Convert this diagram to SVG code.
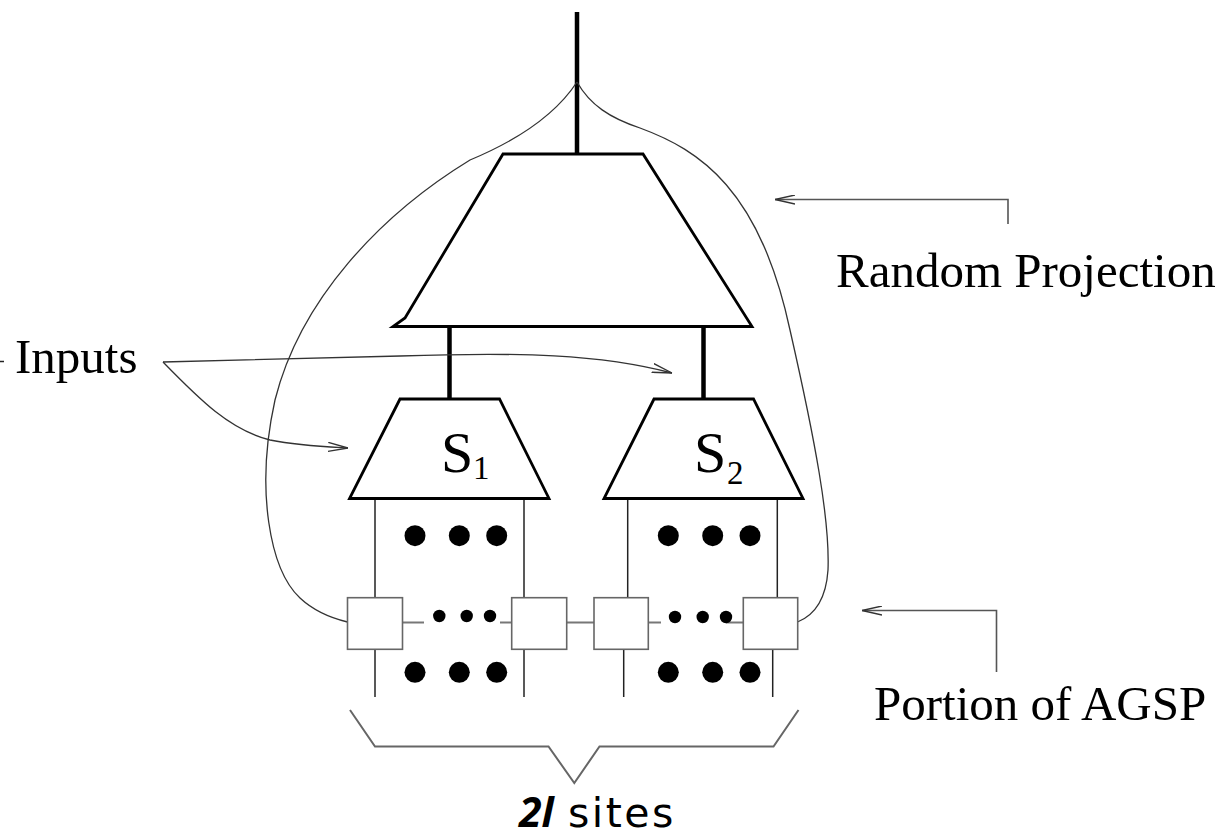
<svg xmlns="http://www.w3.org/2000/svg" width="1227" height="839" viewBox="0 0 1227 839">
  <style>
    .thick { stroke: #000; stroke-width: 4.5; fill: none; }
    .trap { stroke: #000; stroke-width: 2.8; fill: #fff; stroke-linejoin: miter; }
    .wire { stroke: #222; stroke-width: 1.5; fill: none; }
    .box { stroke: #666; stroke-width: 1.6; fill: #fff; }
    .chain { stroke: #777; stroke-width: 2; fill: none; }
    .curve { stroke: #333; stroke-width: 1.3; fill: none; }
    .ptr { stroke: #555; stroke-width: 1.6; fill: none; }
    .brace { stroke: #666; stroke-width: 2; fill: none; stroke-linejoin: miter; }
    .label { font-family: "Liberation Serif", "Times New Roman", serif; font-size: 49px; fill: #000; }
    .sname { font-family: "Liberation Serif", "Times New Roman", serif; font-size: 58px; fill: #000; }
    .ssub { font-family: "Liberation Serif", "Times New Roman", serif; font-size: 33px; fill: #000; }
    .sites { font-family: "DejaVu Sans", sans-serif; font-size: 41px; fill: #000; letter-spacing: 2.5px; }
    .ell { font-family: "Open Sans", "DejaVu Sans", sans-serif; font-style: italic; font-weight: 700; letter-spacing: 0; }
  </style>
  <defs>
    <marker id="open" viewBox="0 0 20 10" refX="20" refY="5" markerWidth="20" markerHeight="10" markerUnits="userSpaceOnUse" orient="auto">
      <path d="M0,0.5 L20,5 L0,9.5" fill="none" stroke="#333" stroke-width="1.4"/>
    </marker>
  </defs>
  <rect width="1227" height="839" fill="#fff"/>

  <!-- connectors -->
  <g id="connectors">
    <!-- output line and links between stages -->
    <line class="thick" x1="577" y1="12" x2="577" y2="155"/>
    <line class="thick" x1="449.5" y1="326" x2="449.5" y2="400"/>
    <line class="thick" x1="703.5" y1="326" x2="703.5" y2="400"/>

    <!-- site wires -->
    <line class="wire" x1="375" y1="498" x2="375" y2="598"/>
    <line class="wire" x1="524" y1="498" x2="524" y2="598"/>
    <line class="wire" x1="627.7" y1="498" x2="627.7" y2="598"/>
    <line class="wire" x1="777.3" y1="498" x2="777.3" y2="598"/>
    <line class="wire" x1="375" y1="649" x2="375" y2="697"/>
    <line class="wire" x1="524" y1="649" x2="524" y2="697"/>
    <line class="wire" x1="623.7" y1="649" x2="623.7" y2="697"/>
    <line class="wire" x1="772.7" y1="649" x2="772.7" y2="697"/>

    <!-- chain links between boxes -->
    <line class="chain" x1="402" y1="622.5" x2="424" y2="622.5"/>
    <line class="chain" x1="500" y1="622.5" x2="512" y2="622.5"/>
    <line class="chain" x1="566" y1="622.5" x2="599" y2="622.5"/>
    <line class="chain" x1="648" y1="622.5" x2="661" y2="622.5"/>
    <line class="chain" x1="726" y1="622.5" x2="744" y2="622.5"/>

    <!-- projection envelope -->
    <path class="curve" d="M577,82 C560,108 530,135 470,160 C380,215 300,300 275,400 C255,490 270,570 300,598 C315,612 335,619 347.5,622"/>
    <path class="curve" d="M577,82 C590,105 610,118 640,128 C700,150 760,190 790,330 C815,440 830,520 828,570 C826,600 815,615 797.5,622"/>

    <!-- Inputs pointers -->
    <line class="wire" x1="0" y1="361.5" x2="4" y2="361.5"/>
    <path class="curve" d="M163,362 L400,356 C520,352 600,354 672,373" marker-end="url(#open)"/>
    <path class="curve" d="M163,362 C200,400 230,430 270,440 C300,446 330,447 348,448" marker-end="url(#open)"/>

    <!-- side pointers -->
    <path class="ptr" d="M1008,224 L1008,199.5 L775,199.5" marker-end="url(#open)"/>
    <path class="ptr" d="M996.5,672 L996.5,610.5 L862,610.5" marker-end="url(#open)"/>

    <!-- brace -->
    <path class="brace" d="M350,710 L375,746.5 L548.5,746.5 L574.3,783 L599.5,746.5 L773.5,746.5 L798.5,710"/>
  </g>

  <!-- projection stage -->
  <g id="projection">
    <path class="trap" d="M503,154 L643,154 L752,326.5 L393,326.5 L405,318 Z"/>
  </g>

  <!-- S1 block -->
  <g id="s1">
    <path class="trap" d="M400,399 L499.5,399 L549,498.5 L349.5,498.5 Z"/>
    <text class="sname" x="441" y="472">S</text>
    <text class="ssub" x="473" y="479">1</text>
  </g>

  <!-- S2 block -->
  <g id="s2">
    <path class="trap" d="M654,399 L753.5,399 L803,498.5 L604,498.5 Z"/>
    <text class="sname" x="694" y="472">S</text>
    <text class="ssub" x="727" y="484">2</text>
  </g>

  <!-- ellipsis dots -->
  <g id="dots" fill="#000">
    <circle cx="415" cy="535.7" r="10.5"/>
    <circle cx="459.3" cy="535.7" r="10.5"/>
    <circle cx="496.7" cy="535.7" r="10.5"/>
    <circle cx="668.3" cy="535.7" r="10.5"/>
    <circle cx="712.7" cy="535.7" r="10.5"/>
    <circle cx="750" cy="535.7" r="10.5"/>
    <circle cx="415" cy="672.3" r="10.5"/>
    <circle cx="459.3" cy="672.3" r="10.5"/>
    <circle cx="496.7" cy="672.3" r="10.5"/>
    <circle cx="668.3" cy="672.3" r="10.5"/>
    <circle cx="712.7" cy="672.3" r="10.5"/>
    <circle cx="750" cy="672.3" r="10.5"/>
    <circle cx="439.3" cy="616" r="6.2"/>
    <circle cx="466.7" cy="616" r="6.2"/>
    <circle cx="490" cy="616" r="6.2"/>
    <circle cx="675" cy="617" r="6.2"/>
    <circle cx="702.7" cy="617" r="6.2"/>
    <circle cx="726" cy="617" r="6.2"/>
  </g>

  <!-- site boxes -->
  <g id="site1"><rect class="box" x="347.5" y="597.7" width="55" height="51.6"/></g>
  <g id="site2"><rect class="box" x="511.7" y="597.7" width="55" height="51.6"/></g>
  <g id="site3"><rect class="box" x="594" y="597.7" width="54.3" height="51.6"/></g>
  <g id="site4"><rect class="box" x="743.3" y="597.7" width="54.4" height="51.6"/></g>

  <!-- labels -->
  <g id="labels">
    <text class="label" x="15" y="373">Inputs</text>
    <text class="label" x="836" y="287">Random Projection</text>
    <text class="label" x="874" y="720">Portion of AGSP</text>
    <text class="sites" x="519" y="827"><tspan class="ell">2l</tspan><tspan x="568">sites</tspan></text>
  </g>
</svg>
